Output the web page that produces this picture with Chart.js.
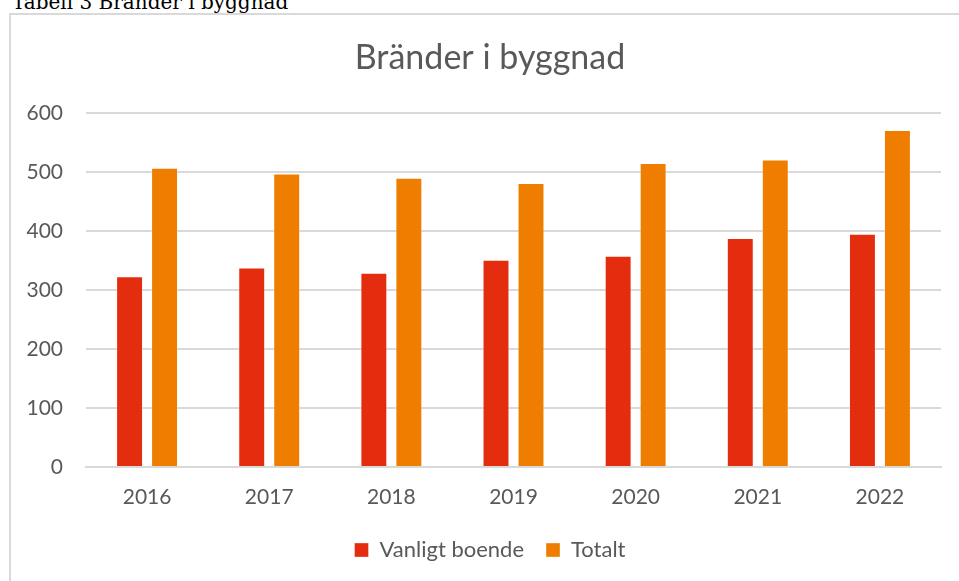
<!DOCTYPE html>
<html>
<head>
<meta charset="utf-8">
<script src="https://cdn.jsdelivr.net/npm/chart.js@4/dist/chart.umd.min.js"></script>
<style>
  html, body { margin: 0; padding: 0; background: #fff; overflow: hidden; width: 959px; height: 581px; }
  #cap { position: absolute; left: 12px; top: -10px; font-family: "DejaVu Serif", "Liberation Serif", serif; font-size: 20px; color: #000; white-space: nowrap; line-height: 24px; }
  #frame { position: absolute; left: 9px; top: 13px; width: 1000px; height: 600px; border: 2px solid #d9d9d9; box-sizing: border-box; }
  #wrap { position: absolute; left: 11px; top: 15px; width: 990px; height: 566px; }
</style>
</head>
<body>
<div id="cap">Tabell 3 Bränder i byggnad</div>
<div id="frame"></div>
<div id="wrap"><canvas id="c" width="990" height="566"></canvas></div>
<script>
const categories = ["2016", "2017", "2018", "2019", "2020", "2021", "2022"];
const vanligtBoende = [323, 338, 329, 351, 358, 388, 395];
const totalt = [507, 497, 490, 481, 515, 521, 571];
const seriesNames = ["Vanligt boende", "Totalt"];
const titleText = "Bränder i byggnad";

const textColor = "#595959";
const fontFam = "Lato, 'Open Sans', sans-serif";

new Chart(document.getElementById("c"), {
  type: "bar",
  data: {
    labels: categories,
    datasets: [
      { label: seriesNames[0], data: vanligtBoende, backgroundColor: "#E32D0E", borderColor: "rgba(255,255,255,0.35)", borderWidth: 1, barPercentage: 0.77, categoryPercentage: 0.573 },
      { label: seriesNames[1], data: totalt, backgroundColor: "#EE7D00", borderColor: "rgba(255,255,255,0.35)", borderWidth: 1, barPercentage: 0.77, categoryPercentage: 0.573 }
    ]
  },
  options: {
    responsive: false,
    animation: false,
    layout: { padding: { left: 0, right: 32, top: 23, bottom: 10 } },
    plugins: {
      title: {
        display: true, text: titleText, color: textColor,
        font: { family: fontFam, size: 34, weight: "normal" },
        padding: { top: 0, bottom: 34 }
      },
      legend: {
        position: "bottom",
        labels: {
          color: textColor, font: { family: fontFam, size: 22 },
          boxWidth: 14, boxHeight: 14, padding: 22, usePointStyle: false
        }
      },
      tooltip: { enabled: false }
    },
    scales: {
      x: {
        afterFit: (s) => { s.height = 50; },
        grid: { display: false, drawTicks: false },
        border: { display: true, color: "#d9d9d9", width: 2 },
        ticks: { color: textColor, font: { family: fontFam, size: 21 }, padding: 18 }
      },
      y: {
        min: 0, max: 600,
        afterFit: (s) => { s.width = 75; },
        grid: { color: "#d9d9d9", lineWidth: 2, drawTicks: false },
        border: { display: false },
        ticks: { stepSize: 100, color: textColor, font: { family: fontFam, size: 21 }, padding: 23 }
      },
      yRightSpacer: {
        type: "linear", position: "right",
        afterFit: (s) => { s.width = 28; },
        grid: { display: false, drawTicks: false },
        border: { display: false },
        ticks: { display: false }
      }
    }
  }
});
</script>
</body>
</html>
